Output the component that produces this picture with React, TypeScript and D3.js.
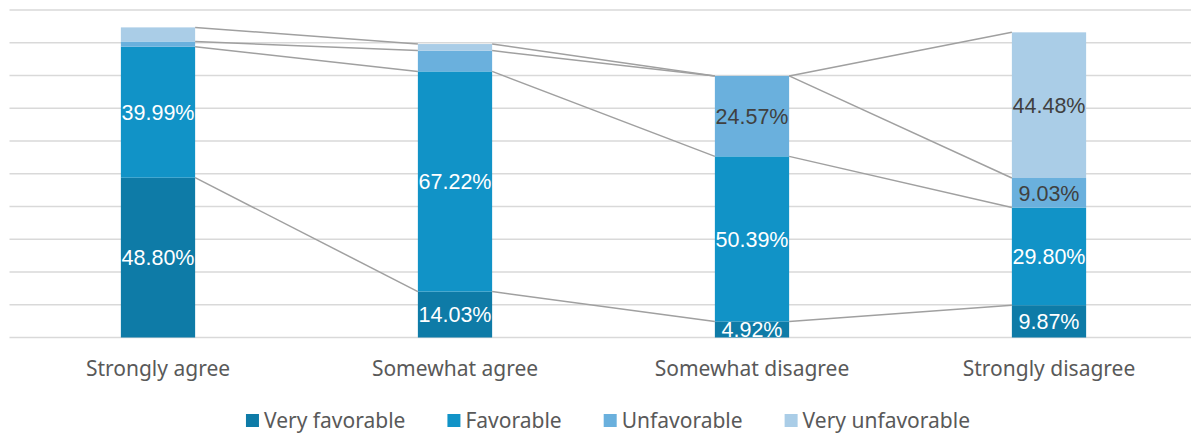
import React, { useEffect, useRef } from "react";
import * as d3 from "d3";

const categories = ["Strongly agree", "Somewhat agree", "Somewhat disagree", "Strongly disagree"];
const seriesNames = ["Very favorable", "Favorable", "Unfavorable", "Very unfavorable"];

// values per series, one per category
const veryFavorable = [48.8, 14.03, 4.92, 9.87];
const favorable = [39.99, 67.22, 50.39, 29.8];
const unfavorable = [1.6, 6.35, 24.57, 9.03];
const veryUnfavorable = [4.3, 2.0, 0, 44.48];

// which data labels are shown
const showLabel = [
  [true, true, true, true],
  [true, true, true, true],
  [false, false, true, true],
  [false, false, false, true],
];

const colors = ["#0E7BA7", "#1193C7", "#6AB0DD", "#AACDE7"];
const labelColors = ["#ffffff", "#ffffff", "#404040", "#404040"];
const yTicks = [0, 10, 20, 30, 40, 50, 60, 70, 80, 90, 100];

const App: React.FC = () => {
  const svgRef = useRef<SVGSVGElement>(null);

  useEffect(() => {
    if (!svgRef.current) return;
    const width = 1191;
    const height = 436;
    const svg = d3.select(svgRef.current);
    svg.selectAll("*").remove();
    svg.attr("width", width).attr("height", height);

    const values = [veryFavorable, favorable, unfavorable, veryUnfavorable];
    const rows = categories.map((c, i) => {
      const r: any = { cat: c };
      seriesNames.forEach((s, j) => (r[s] = values[j][i]));
      return r;
    });
    const stacked = d3.stack<any>().keys(seriesNames)(rows);

    const x = d3
      .scaleBand()
      .domain(categories)
      .range([9.5, 1197.5])
      .paddingInner(0.75)
      .paddingOuter(0.375);
    const y = d3.scaleLinear().domain([0, 100]).range([337.5, 10]);

    // gridlines
    svg
      .append("g")
      .selectAll("line")
      .data(yTicks)
      .join("line")
      .attr("x1", 9.5)
      .attr("x2", 1197.5)
      .attr("y1", (d) => y(d))
      .attr("y2", (d) => y(d))
      .attr("stroke", "#D9D9D9")
      .attr("stroke-width", 1.3);

    // bars
    stacked.forEach((layer, j) => {
      svg
        .append("g")
        .selectAll("rect")
        .data(layer)
        .join("rect")
        .attr("x", (d: any) => x(d.data.cat)!)
        .attr("width", x.bandwidth())
        .attr("y", (d) => y(d[1]))
        .attr("height", (d) => y(d[0]) - y(d[1]))
        .attr("fill", colors[j]);
    });

    // series lines
    const lineG = svg.append("g");
    stacked.forEach((layer) => {
      for (let i = 0; i < layer.length - 1; i++) {
        const a = layer[i];
        const b = layer[i + 1];
        lineG
          .append("line")
          .attr("x1", x(categories[i])! + x.bandwidth())
          .attr("y1", y(a[1]))
          .attr("x2", x(categories[i + 1])!)
          .attr("y2", y(b[1]))
          .attr("stroke", "#A0A0A0")
          .attr("stroke-width", 1.5);
      }
    });

    // data labels
    stacked.forEach((layer, j) => {
      layer.forEach((d, i) => {
        if (!showLabel[j][i]) return;
        svg
          .append("text")
          .attr("x", x(categories[i])! + x.bandwidth() / 2)
          .attr("y", (y(d[0]) + y(d[1])) / 2)
          .attr("dy", "0.36em")
          .attr("text-anchor", "middle")
          .attr("font-family", "Liberation Sans, Arial, sans-serif")
          .attr("font-size", 21.5)
          .attr("fill", labelColors[j])
          .text(values[j][i].toFixed(2) + "%");
      });
    });

    // category labels
    svg
      .append("g")
      .selectAll("text")
      .data(categories)
      .join("text")
      .attr("x", (d) => x(d)! + x.bandwidth() / 2)
      .attr("y", 376)
      .attr("text-anchor", "middle")
      .attr("font-family", "Noto Sans, sans-serif")
      .attr("font-size", 21)
      .attr("fill", "#595959")
      .text((d) => d);

    // legend
    const legend = svg.append("g");
    const gap = 42;
    let lx = 0;
    seriesNames.forEach((s, j) => {
      const g = legend.append("g").attr("transform", `translate(${lx},0)`);
      g.append("rect").attr("x", 0).attr("y", 414).attr("width", 13).attr("height", 13).attr("fill", colors[j]);
      const t = g
        .append("text")
        .attr("x", 18)
        .attr("y", 428)
        .attr("font-family", "Noto Sans, sans-serif")
        .attr("font-size", 21)
        .attr("fill", "#595959")
        .text(s);
      const w = 18 + (t.node() as SVGTextElement).getComputedTextLength();
      lx += w + gap;
    });
    const total = lx - gap;
    legend.attr("transform", `translate(${608 - total / 2},0)`);
  }, []);

  return <svg ref={svgRef} style={{ position: "absolute", left: 0, top: 0 }} />;
};

export default App;
